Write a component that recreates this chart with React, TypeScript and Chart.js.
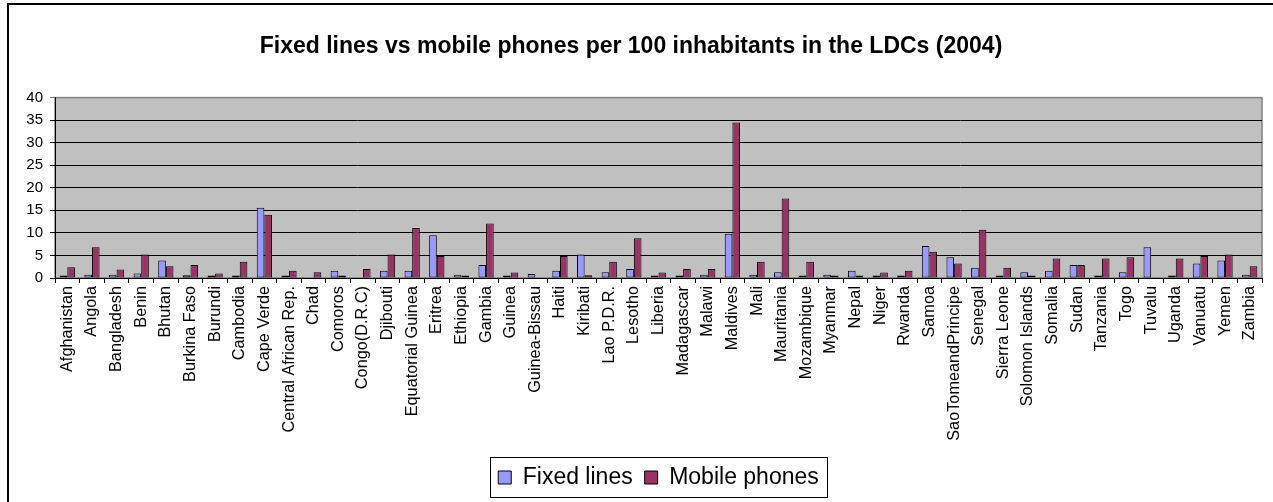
import React, { useEffect, useRef } from "react";
import { Chart, registerables } from "chart.js";

Chart.register(...registerables);

const countries = [
  "Afghanistan", "Angola", "Bangladesh", "Benin", "Bhutan", "Burkina Faso", "Burundi",
  "Cambodia", "Cape Verde", "Central African Rep.", "Chad", "Comoros", "Congo(D.R.C)",
  "Djibouti", "Equatorial Guinea", "Eritrea", "Ethiopia", "Gambia", "Guinea",
  "Guinea-Bissau", "Haiti", "Kiribati", "Lao P.D.R.", "Lesotho", "Liberia", "Madagascar",
  "Malawi", "Maldives", "Mali", "Mauritania", "Mozambique", "Myanmar", "Nepal", "Niger",
  "Rwanda", "Samoa", "SaoTomeandPrincipe", "Senegal", "Sierra Leone", "Solomon Islands",
  "Somalia", "Sudan", "Tanzania", "Togo", "Tuvalu", "Uganda", "Vanuatu", "Yemen", "Zambia",
];

// null = no bar shown for that country
const fixedLines = [
  0.3, 0.7, 0.7, 1.0, 3.9, 0.6, 0.3, 0.3, 15.6, 0.3, null, 1.6, null, 1.6, 1.6, 9.5, 0.7,
  2.9, 0.3, 0.9, 1.6, 5.2, 1.3, 2.0, 0.3, 0.3, 0.7, 9.8, 0.7, 1.3, 0.4, 0.7, 1.6, 0.2,
  0.3, 7.1, 4.6, 2.3, 0.3, 1.3, 1.6, 2.9, 0.4, 1.3, 6.8, 0.3, 3.2, 3.9, 0.7,
];

const mobilePhones = [
  2.4, 6.8, 1.9, 5.2, 2.6, 2.9, 1.0, 3.6, 14.0, 1.6, 1.3, 0.3, 2.0, 5.2, 11.1, 4.9, 0.3,
  12.1, 1.2, null, 4.9, 0.6, 3.6, 8.8, 1.2, 2.0, 2.0, 34.5, 3.6, 17.6, 3.6, 0.3, 0.3, 1.2,
  1.6, 5.8, 3.2, 10.7, 2.3, 0.3, 4.3, 2.9, 4.3, 4.6, null, 4.3, 4.9, 5.2, 2.6,
];

const titleText = "Fixed lines vs mobile phones per 100 inhabitants in the LDCs (2004)";
const FONT = "'Liberation Sans', Arial, sans-serif";

// Page frame, grey plot area and the boxed legend
const decorations = {
  id: "decorations",
  beforeDraw(chart: any) {
    const { ctx, chartArea: a, width, height } = chart;
    ctx.save();
    ctx.fillStyle = "#ffffff";
    ctx.fillRect(0, 0, width, height);
    ctx.strokeStyle = "#000000";
    ctx.lineWidth = 2;
    ctx.beginPath();
    ctx.moveTo(8, height + 5);
    ctx.lineTo(8, 4);
    ctx.lineTo(width + 5, 4);
    ctx.stroke();
    ctx.fillStyle = "#C0C0C0";
    ctx.fillRect(a.left, a.top, a.right - a.left, a.bottom - a.top);
    ctx.strokeStyle = "#808080";
    ctx.lineWidth = 1.5;
    ctx.strokeRect(a.left, a.top, a.right - a.left, a.bottom - a.top);
    ctx.restore();
  },
  afterDraw(chart: any) {
    const boxes = chart.legend?.legendHitBoxes;
    if (!boxes || !boxes.length) return;
    const first = boxes[0];
    const last = boxes[boxes.length - 1];
    const { ctx } = chart;
    ctx.save();
    ctx.strokeStyle = "#000000";
    ctx.lineWidth = 1;
    const left = Math.round(first.left - 8) + 0.5;
    const right = Math.round(last.left + last.width + 8) + 0.5;
    const top = Math.round(first.top - 9) + 0.5;
    const bottom = Math.round(first.top + first.height + 8) + 0.5;
    ctx.strokeRect(left, top, right - left, bottom - top);
    ctx.restore();
  },
};

export default function App() {
  const canvasRef = useRef<HTMLCanvasElement | null>(null);

  useEffect(() => {
    const canvas = canvasRef.current;
    if (!canvas) return;
    const chart = new Chart(canvas, {
      type: "bar",
      data: {
        labels: countries,
        datasets: [
          {
            label: "Fixed lines",
            data: fixedLines,
            backgroundColor: "#9999FF",
            borderColor: "#000000",
            borderWidth: 1,
            borderSkipped: false,
            minBarLength: 2.5,
            categoryPercentage: 0.62,
            barPercentage: 1.0,
          },
          {
            label: "Mobile phones",
            data: mobilePhones,
            backgroundColor: "#993366",
            borderColor: "#000000",
            borderWidth: 1,
            borderSkipped: false,
            minBarLength: 2.5,
            categoryPercentage: 0.62,
            barPercentage: 1.0,
          },
        ],
      },
      options: {
        responsive: false,
        animation: false,
        devicePixelRatio: 1,
        layout: { padding: { left: 0, right: 11, top: 0, bottom: 3 } },
        plugins: {
          title: {
            display: true,
            text: titleText,
            color: "#000000",
            font: { family: FONT, size: 23, weight: "bold", lineHeight: 1.2 },
            padding: { top: 33, bottom: 37 },
          },
          legend: {
            position: "bottom",
            fullSize: false,
            labels: {
              color: "#000000",
              font: { family: FONT, size: 23 },
              boxWidth: 13,
              boxHeight: 13,
              padding: 12,
            },
          },
          tooltip: { enabled: false },
        },
        scales: {
          x: {
            grid: {
              display: true,
              drawOnChartArea: false,
              drawTicks: true,
              tickLength: 5,
              color: "#000000",
              offset: true,
            },
            border: { display: true, color: "#000000", width: 1 },
            ticks: {
              autoSkip: false,
              minRotation: 90,
              maxRotation: 90,
              padding: 3,
              color: "#000000",
              font: { family: FONT, size: 16.3 },
            },
            afterFit(scale: any) {
              scale.height = 176;
            },
          },
          y: {
            min: 0,
            max: 40,
            grid: {
              color: (ctx: any) => (ctx.tick && ctx.tick.value === 40 ? "#808080" : "#000000"),
              tickLength: 5,
              lineWidth: 1,
            },
            border: { display: true, color: "#000000", width: 1 },
            ticks: {
              stepSize: 5,
              padding: 7,
              color: "#000000",
              font: { family: FONT, size: 15 },
            },
            afterFit(scale: any) {
              scale.width = 55;
            },
          },
        },
      },
      plugins: [decorations],
    });
    return () => chart.destroy();
  }, []);

  return (
    <div style={{ position: "fixed", left: 0, top: 0, width: 1273, height: 502, background: "#fff" }}>
      <canvas ref={canvasRef} width={1273} height={502} />
    </div>
  );
}
